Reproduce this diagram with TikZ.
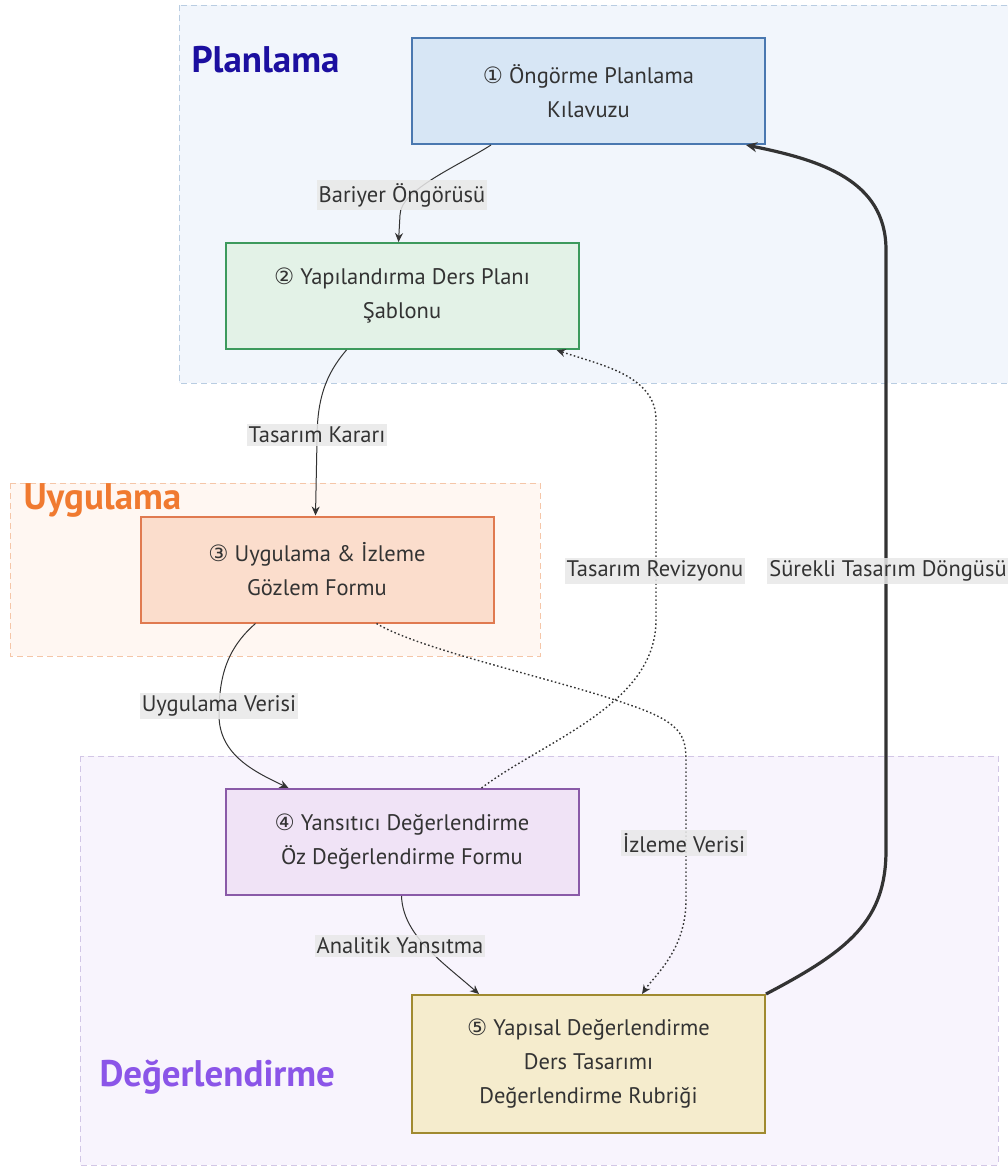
\documentclass[tikz,border=0pt]{standalone}
\usepackage{fontspec}
\setmainfont{PT Sans}
\newfontfamily\symf{DejaVu Sans}
\usetikzlibrary{arrows.meta,calc}
\definecolor{clPfill}{HTML}{F2F6FC}\definecolor{clPdraw}{HTML}{B9CDE2}
\definecolor{clUfill}{HTML}{FFF7F2}\definecolor{clUdraw}{HTML}{F5C6A8}
\definecolor{clDfill}{HTML}{F8F4FD}\definecolor{clDdraw}{HTML}{D2C6E6}
\definecolor{nAfill}{HTML}{D7E6F5}\definecolor{nAdraw}{HTML}{4A78B0}
\definecolor{nBfill}{HTML}{E3F2E7}\definecolor{nBdraw}{HTML}{3D9A5D}
\definecolor{nCfill}{HTML}{FBDDCC}\definecolor{nCdraw}{HTML}{E07A50}
\definecolor{nDfill}{HTML}{F0E3F6}\definecolor{nDdraw}{HTML}{8A5AA8}
\definecolor{nEfill}{HTML}{F5ECCD}\definecolor{nEdraw}{HTML}{A08A30}
\definecolor{ttP}{HTML}{1C0FA0}\definecolor{ttU}{HTML}{F07A30}\definecolor{ttD}{HTML}{8B55E8}
\definecolor{txt}{HTML}{333333}\definecolor{lnk}{HTML}{333333}\definecolor{lblbg}{HTML}{E8E8E8}
\begin{document}
\begin{tikzpicture}[x=1pt,y=-1pt,
  cluster/.style={line width=1pt,dash pattern=on 6pt off 4pt},
  box/.style={rectangle,draw,line width=2pt,minimum width=353pt,minimum height=106pt,align=center,text=txt,font=\fontsize{22.5}{34}\selectfont},
  ttl/.style={font=\fontsize{37}{40}\selectfont\bfseries,anchor=west},
  arr/.style={draw=lnk,line width=1pt,-{Stealth[length=9pt,width=8pt]}},
  dotarr/.style={arr,line width=1.4pt,dash pattern=on 1.6pt off 2.4pt},
  lbl/.style={fill=lblbg,fill opacity=0.85,text opacity=1,text=txt,inner xsep=2pt,inner ysep=3pt,font=\fontsize{22.5}{26}\selectfont}]
\useasboundingbox (0,0) rectangle (1007,1170);
% clusters
\draw[cluster,fill=clPfill,draw=clPdraw] (179,5) rectangle (1015,383);
\draw[cluster,fill=clUfill,draw=clUdraw] (10,483) rectangle (540,656);
\draw[cluster,fill=clDfill,draw=clDdraw] (80,756) rectangle (998,1165);
\node[ttl,text=ttP] (tP) at (188,60) {Planlama};
\node[ttl,text=ttU] (tU) at (20,500) {Uygulama};
\node[ttl,text=ttD] (tD) at (96,1077) {Değerlendirme};
% nodes
\node[box,fill=nAfill,draw=nAdraw] (n1) at (588.5,91) {{\symf ①} Öngörme Planlama\\Kılavuzu};
\node[box,fill=nBfill,draw=nBdraw] (n2) at (402,296) {{\symf ②} Yapılandırma Ders Planı\\Şablonu};
\node[box,fill=nCfill,draw=nCdraw] (n3) at (317,569.5) {{\symf ③} Uygulama \& İzleme\\Gözlem Formu};
\node[box,fill=nDfill,draw=nDdraw] (n4) at (402,842) {{\symf ④} Yansıtıcı Değerlendirme\\Öz Değerlendirme Formu};
\node[box,fill=nEfill,draw=nEdraw,minimum height=138pt] (n5) at (588.5,1064) {{\symf ⑤} Yapısal Değerlendirme\\Ders Tasarımı\\Değerlendirme Rubriği};
% edges
\draw[arr] ($(n1.south west)+(80,0)$) .. controls (460,165) and (400,190) .. (400,215) -- ($(n2.north west)+(174,0)$);
\draw[arr] ($(n2.south west)+(122,0)$) .. controls (325,375) and (317,400) .. (317,440) -- ($(n3.north west)+(176,0)$);
\draw[arr] ($(n3.south west)+(116,0)$) .. controls (225,650) and (219,680) .. (219,715) .. controls (219,755) and (255,772) .. ($(n4.north west)+(64,0)$);
\draw[dotarr] ($(n3.south west)+(237,0)$) .. controls (420,650) and (560,680) .. (630,705) .. controls (680,722) and (686,735) .. (686,760) -- (686,900) .. controls (686,950) and (655,975) .. ($(n5.north west)+(231,0)$);
\draw[dotarr] ($(n4.north west)+(257,0)$) .. controls (545,740) and (656,705) .. (656,620) -- (656,420) .. controls (656,375) and (600,365) .. ($(n2.south west)+(332,0)$);
\draw[arr] ($(n4.south west)+(177,0)$) .. controls (403,935) and (440,960) .. ($(n5.north west)+(68,0)$);
\draw[arr,line width=3.2pt,-{Stealth[length=11pt,width=10pt]}] (n5.north east) .. controls (850,950) and (886,920) .. (886,850) -- (886,250) .. controls (886,180) and (820,160) .. ($(n1.south east)+(-20,0)$);
% labels
\node[lbl] (l1) at (402,195) {Bariyer Öngörüsü};
\node[lbl] (l2) at (317,435) {Tasarım Kararı};
\node[lbl] (l3) at (219,706) {Uygulama Verisi};
\node[lbl] (l4) at (684,843) {İzleme Verisi};
\node[lbl] (l5) at (400,946) {Analitik Yansıtma};
\node[lbl] (l6) at (655,571) {Tasarım Revizyonu};
\node[lbl] (l7) at (888,571) {Sürekli Tasarım Döngüsü};
\end{tikzpicture}
\end{document}
